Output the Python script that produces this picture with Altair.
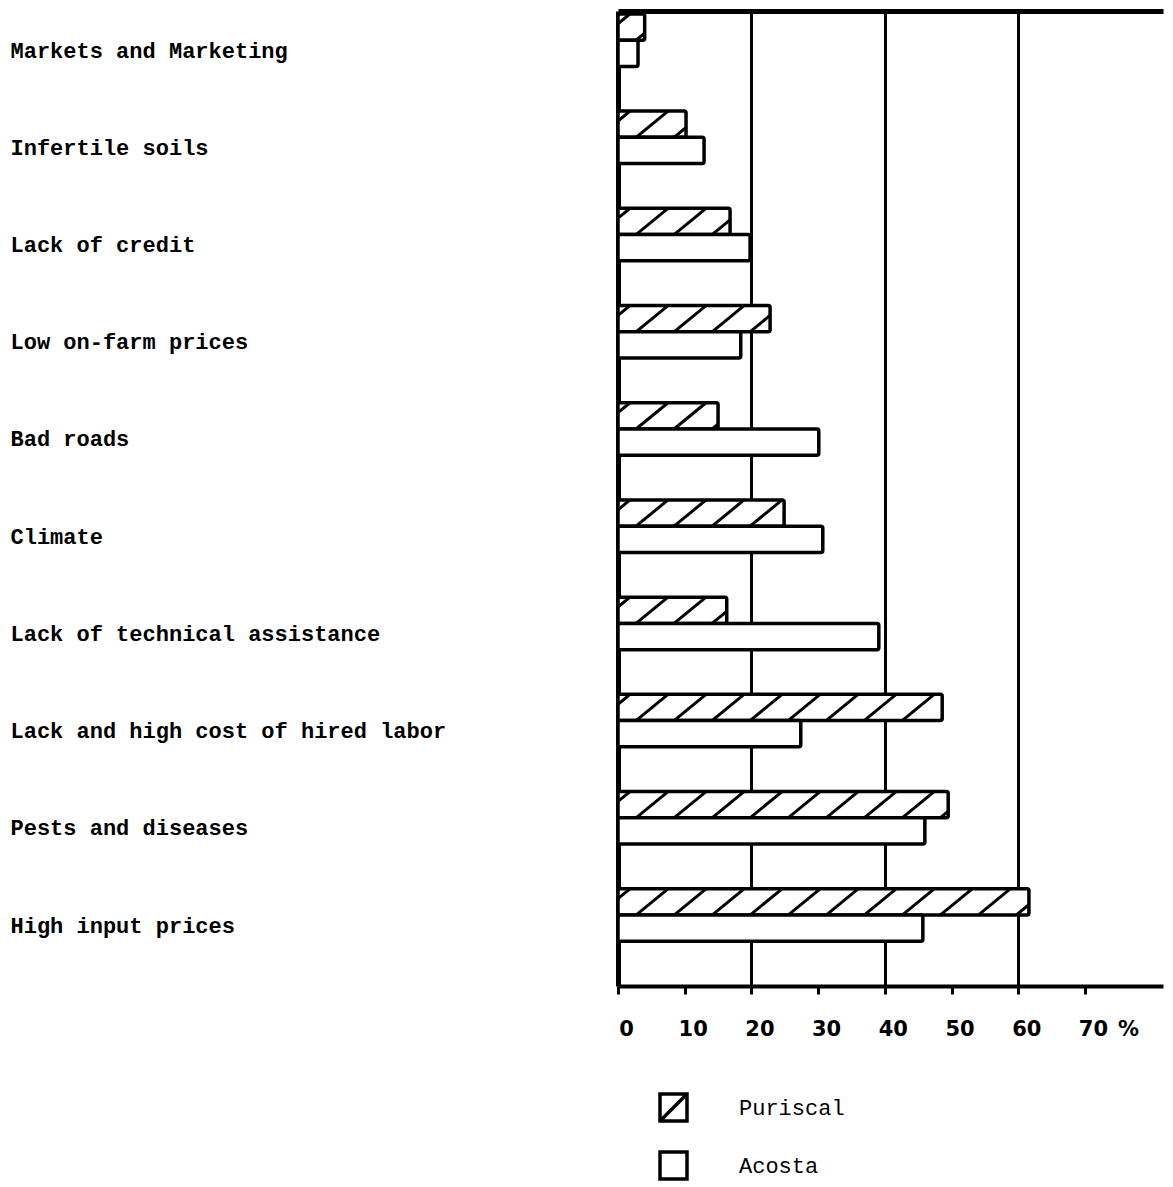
import json
import altair as alt
import pandas as pd

categories = [
    "Markets and Marketing",
    "Infertile soils",
    "Lack of credit",
    "Low on-farm prices",
    "Bad roads",
    "Climate",
    "Lack of technical assistance",
    "Lack and high cost of hired labor",
    "Pests and diseases",
    "High input prices",
]
puriscal = [4.0, 10.2, 16.8, 22.8, 15.0, 24.9, 16.3, 48.6, 49.5, 61.6]
acosta = [3.0, 12.9, 19.8, 18.4, 30.1, 30.7, 39.1, 27.4, 46.0, 45.7]
series = ["Puriscal", "Acosta"]
x_ticks = [0, 10, 20, 30, 40, 50, 60, 70]
grid_values = [20, 40, 60]

BAR = 0.27  # bar thickness in category units
rows = []
for i, c in enumerate(categories):
    rows.append(dict(cat=c, series="Puriscal", base=0, value=puriscal[i], y0=i - BAR, y1=i))
    rows.append(dict(cat=c, series="Acosta", base=0, value=acosta[i], y0=i, y1=i + BAR))
bars_df = pd.DataFrame(rows)

# diagonal hatching for the Puriscal bars, clipped to each bar
SPACING = 5.7
SLANT = 4.8
START = -3.0
hatch = []
for i, v in enumerate(puriscal):
    ybot, ytop = i, i - BAR
    k = 0
    while True:
        x0 = START + k * SPACING
        if x0 >= v:
            break
        tmin = max(0.0, -x0 / SLANT)
        tmax = min(1.0, (v - x0) / SLANT)
        if tmax > tmin:
            hatch.append(dict(
                xa=x0 + tmin * SLANT, xb=x0 + tmax * SLANT,
                ya=ybot + tmin * (ytop - ybot), yb=ybot + tmax * (ytop - ybot)))
        k += 1
hatch_df = pd.DataFrame(hatch)

xscale = alt.Scale(domain=[0, 81.7], nice=False, zero=False)
yscale = alt.Scale(domain=[-0.3, 9.73], reverse=True, nice=False, zero=False)

bottom_axis = alt.Axis(
    orient="bottom", values=x_ticks, format="d", grid=False,
    domain=True, domainColor="black", domainWidth=4,
    ticks=True, tickColor="black", tickWidth=3, tickSize=8,
    labelFont="DejaVu Sans", labelFontWeight="bold", labelFontSize=21,
    labelColor="black", labelPadding=35, labelBaseline="middle",
    labelOffset=8, labelFlush=False, labelOverlap=False,
    title="%", titleX=510, titleY=43, titleFont="DejaVu Sans",
    titleFontSize=21, titleFontWeight="bold", titleColor="black",
    titleAlign="center", titleBaseline="middle", titleAngle=0,
)

top_axis = alt.Axis(
    orient="top", values=grid_values, grid=True, gridColor="black",
    gridWidth=3, gridOpacity=1, domain=True, domainColor="black",
    domainWidth=5, ticks=False, labels=False, title=None,
)

y_axis = alt.Axis(
    values=list(range(len(categories))),
    labelExpr=json.dumps(categories) + "[datum.value]",
    grid=False, ticks=False, domain=True, domainColor="black", domainWidth=5,
    labelAlign="left", labelPadding=608, labelFont="Liberation Mono",
    labelFontWeight="bold", labelFontSize=22, labelColor="black",
    labelLimit=0, labelOffset=10, labelBaseline="middle",
    labelOverlap=False, title=None,
)

HATCHED_SQUARE = "M-1,-1H1V1H-1Z M-0.85,0.85L0.85,-0.85"

legend = alt.Legend(
    title=None, orient="none", legendX=40, legendY=1081,
    direction="vertical", symbolSize=729, symbolOpacity=1,
    symbolStrokeColor="black", symbolStrokeWidth=3.5, symbolFillColor="white",
    labelFont="Liberation Mono", labelFontSize=22, labelColor="black",
    labelOffset=50, rowPadding=17, padding=0,
)

bars = alt.Chart(bars_df).mark_bar(
    stroke="black", strokeWidth=3.5, strokeJoin="round", cornerRadius=2, fill="white"
).encode(
    x=alt.X("base:Q", scale=xscale, axis=bottom_axis),
    x2="value:Q",
    y=alt.Y("y0:Q", scale=yscale, axis=y_axis),
    y2="y1:Q",
)

hatches = alt.Chart(hatch_df).mark_rule(
    color="black", strokeWidth=3, strokeCap="butt"
).encode(
    x=alt.X("xa:Q", scale=xscale, axis=top_axis),
    x2="xb:Q",
    y=alt.Y("ya:Q", scale=yscale, axis=y_axis),
    y2="yb:Q",
)

legend_pts = alt.Chart(bars_df).mark_point(filled=False, color="black").encode(
    x=alt.X("base:Q", scale=xscale, axis=None),
    y=alt.Y("y0:Q", scale=yscale, axis=y_axis),
    shape=alt.Shape("series:N", scale=alt.Scale(domain=series, range=[HATCHED_SQUARE, "square"]), legend=legend),
    opacity=alt.value(0),
)

chart = alt.layer(bars, hatches, legend_pts).resolve_axis(x="independent").properties(
    width=545, height=975,
    autosize=alt.AutoSizeParams(type="none"),
    padding={"left": 610, "top": 3, "right": 2, "bottom": 195},
    background="white",
).configure_view(stroke=None)

chart.save("out.html", embed_options={"renderer": "svg", "actions": False})
